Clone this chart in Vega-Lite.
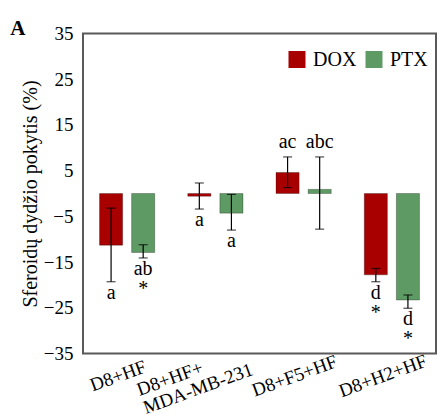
{
  "$schema": "https://vega.github.io/schema/vega-lite/v6.json",
  "width": 353,
  "height": 320,
  "padding": {"left": 10, "top": 17.5, "right": 4, "bottom": 4},
  "background": "white",
  "title": {"text": "A", "anchor": "start", "frame": "bounds", "font": "Liberation Serif", "fontSize": 21, "fontWeight": "bold", "color": "black", "dx": -10, "offset": -14},
  "config": {
    "view": {"stroke": "#595959", "strokeWidth": 2},
    "font": "Liberation Serif",
    "axis": {"labelFont": "Liberation Serif", "titleFont": "Liberation Serif", "labelColor": "black", "titleColor": "black", "labelFontSize": 19, "titleFontSize": 20, "titleFontWeight": "normal", "grid": false, "ticks": false, "domain": false},
    "legend": {"labelFont": "Liberation Serif", "labelFontSize": 20, "labelColor": "black"}
  },
  "data": {"values": [
    {"group": "D8+HF", "drug": "DOX", "mean": -11.3, "lo": -19.3, "hi": -3.2, "label": "a", "pos": "below"},
    {"group": "D8+HF", "drug": "PTX", "mean": -12.9, "lo": -14.1, "hi": -11.2, "label": "ab\n*", "pos": "below"},
    {"group": "D8+HF+ MDA-MB-231", "drug": "DOX", "mean": -0.6, "lo": -3.4, "hi": 2.3, "label": "a", "pos": "below"},
    {"group": "D8+HF+ MDA-MB-231", "drug": "PTX", "mean": -4.3, "lo": -8.0, "hi": -0.2, "label": "a", "pos": "below"},
    {"group": "D8+F5+HF", "drug": "DOX", "mean": 4.6, "lo": 1.3, "hi": 8.0, "label": "ac", "pos": "above"},
    {"group": "D8+F5+HF", "drug": "PTX", "mean": 0.9, "lo": -7.8, "hi": 8.0, "label": "abc", "pos": "above"},
    {"group": "D8+H2+HF", "drug": "DOX", "mean": -17.8, "lo": -19.3, "hi": -16.4, "label": "d\n*", "pos": "below"},
    {"group": "D8+H2+HF", "drug": "PTX", "mean": -23.3, "lo": -25.1, "hi": -22.2, "label": "d\n*", "pos": "below"}
  ]},
  "encoding": {
    "x": {"field": "group", "type": "nominal", "sort": ["D8+HF", "D8+HF+ MDA-MB-231", "D8+F5+HF", "D8+H2+HF"],
      "scale": {"paddingInner": 0, "paddingOuter": 0},
      "axis": {"title": null, "labelAngle": -20, "labelLineHeight": 19,
        "labelAlign": {"condition": {"test": "datum.value == 'D8+HF+ MDA-MB-231'", "value": "left"}, "value": "center"},
        "labelBaseline": {"condition": {"test": "datum.value == 'D8+HF+ MDA-MB-231'", "value": "top"}, "value": "middle"},
        "labelOffset": {"condition": {"test": "datum.value == 'D8+HF+ MDA-MB-231'", "value": -81}, "value": -9},
        "labelPadding": {"condition": {"test": "datum.value == 'D8+HF+ MDA-MB-231'", "value": 28}, "value": 22},
        "labelExpr": "datum.value == 'D8+HF+ MDA-MB-231' ? ['D8+HF+', 'MDA-MB-231'] : datum.label"}},
    "xOffset": {"field": "drug", "type": "nominal", "scale": {"paddingInner": 0.28, "paddingOuter": 0.515}}
  },
  "layer": [
    {
      "mark": {"type": "bar", "stroke": "#000000", "strokeOpacity": 0.35, "strokeWidth": 0.8},
      "encoding": {
        "y": {"field": "mean", "type": "quantitative", "scale": {"domain": [-35, 35], "nice": false},
          "axis": {"values": [-35, -25, -15, -5, 5, 15, 25, 35], "title": "Sferoidų dydžio pokytis (%)", "labelPadding": 10, "titlePadding": 3}},
        "color": {"field": "drug", "type": "nominal", "scale": {"domain": ["DOX", "PTX"], "range": ["#A80000", "#5E9A64"]},
          "legend": {"title": null, "orient": "none", "legendX": 204, "legendY": 16, "direction": "horizontal", "symbolType": "square", "symbolSize": 289, "symbolStrokeWidth": 0, "symbolOpacity": 1, "labelOffset": 6, "columnPadding": 7, "padding": 0}}
      }
    },
    {
      "mark": {"type": "rule", "color": "black", "strokeWidth": 1.2},
      "encoding": {"y": {"datum": 0}}
    },
    {
      "mark": {"type": "rule", "color": "black", "strokeWidth": 1.2},
      "encoding": {"y": {"field": "lo", "type": "quantitative"}, "y2": {"field": "hi"}}
    },
    {
      "mark": {"type": "tick", "color": "black", "thickness": 1.2, "size": 9, "orient": "horizontal"},
      "encoding": {"y": {"field": "lo", "type": "quantitative"}}
    },
    {
      "mark": {"type": "tick", "color": "black", "thickness": 1.2, "size": 9, "orient": "horizontal"},
      "encoding": {"y": {"field": "hi", "type": "quantitative"}}
    },
    {
      "transform": [{"filter": "datum.pos == 'below'"}],
      "mark": {"type": "text", "font": "Liberation Serif", "fontSize": 20, "baseline": "alphabetic", "dy": 17, "lineBreak": "\n", "lineHeight": 20, "color": "black"},
      "encoding": {"y": {"field": "lo", "type": "quantitative"}, "text": {"field": "label"}}
    },
    {
      "transform": [{"filter": "datum.pos == 'above'"}],
      "mark": {"type": "text", "font": "Liberation Serif", "fontSize": 20, "baseline": "alphabetic", "dy": -8.5, "color": "black"},
      "encoding": {"y": {"field": "hi", "type": "quantitative"}, "text": {"field": "label"}}
    }
  ]
}
